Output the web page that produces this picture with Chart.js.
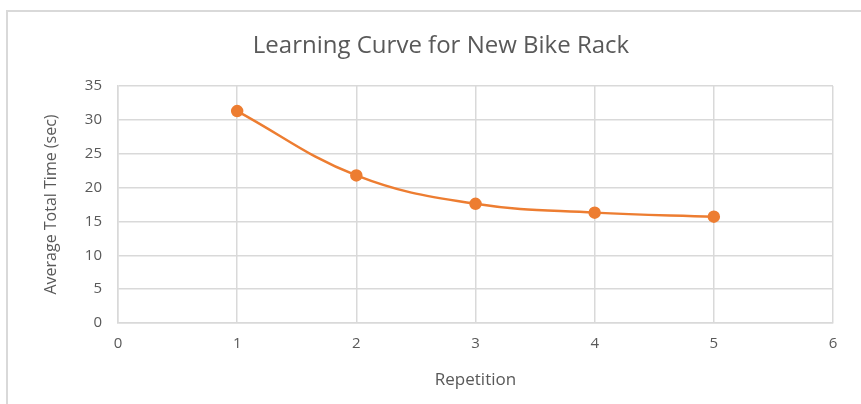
<!DOCTYPE html>
<html>
<head>
<meta charset="utf-8">
<script src="https://cdn.jsdelivr.net/npm/chart.js@4"></script>
<style>
    html, body { margin: 0; padding: 0; background: #fff; overflow: hidden; }
    #frame {
        position: absolute; left: 6px; top: 10px; width: 900px; height: 450px;
        border-left: 2px solid #d9d9d9; border-top: 2px solid #d9d9d9;
    }
    #wrap { position: absolute; left: 0; top: 0; width: 861px; height: 404px; }
</style>
</head>
<body>
<div id="frame"></div>
<div id="wrap"><canvas id="learningChart"></canvas></div>
<script>
const repetitions = [1, 2, 3, 4, 5];
const avgTimes = [31.3, 21.8, 17.6, 16.3, 15.7];
const xTicks = [0, 1, 2, 3, 4, 5, 6];
const yTicks = [0, 5, 10, 15, 20, 25, 30, 35];

const grey = '#595959';
const gridGrey = '#d9d9d9';
const font = '"Open Sans", sans-serif';

const ctx = document.getElementById('learningChart').getContext('2d');
new Chart(ctx, {
    type: 'scatter',
    data: {
        datasets: [{
            data: repetitions.map((x, i) => ({ x: x, y: avgTimes[i] })),
            showLine: true,
            borderColor: '#ed7d31',
            backgroundColor: '#ed7d31',
            borderWidth: 2.5,
            pointRadius: 5,
            tension: 0.4
        }]
    },
    options: {
        responsive: true,
        maintainAspectRatio: false,
        animation: false,
        layout: { padding: { left: 49, right: 28, top: 0, bottom: 0 } },
        plugins: {
            legend: { display: false },
            tooltip: { enabled: false },
            title: {
                display: true,
                text: 'Learning Curve for New Bike Rack',
                color: grey,
                font: { family: font, size: 24, weight: 'normal' },
                padding: { top: 31.5, bottom: 25.7 }
            }
        },
        scales: {
            x: {
                type: 'linear',
                min: 0, max: 6,
                afterBuildTicks: s => { s.ticks = xTicks.map(v => ({ value: v })); },
                afterFit: s => { s.height = 81; },
                grid: { color: gridGrey, lineWidth: 1.5, drawTicks: false },
                border: { color: gridGrey, width: 1.5 },
                ticks: { color: grey, padding: 12, font: { family: font, size: 15 } },
                title: {
                    display: true, text: 'Repetition', color: grey,
                    font: { family: font, size: 17 },
                    padding: { top: 0, bottom: 14 }
                }
            },
            y: {
                min: 0, max: 35,
                afterBuildTicks: s => { s.ticks = yTicks.map(v => ({ value: v })); },
                afterFit: s => { s.width = 69; },
                grid: { color: gridGrey, lineWidth: 1.5, drawTicks: false },
                border: { color: gridGrey, width: 1.5 },
                ticks: { color: grey, padding: 16, font: { family: font, size: 15 } },
                title: {
                    display: true, text: 'Average Total Time (sec)', color: grey,
                    font: { family: font, size: 16 },
                    padding: { top: -7, bottom: 0 }
                }
            }
        }
    }
});
</script>
</body>
</html>
